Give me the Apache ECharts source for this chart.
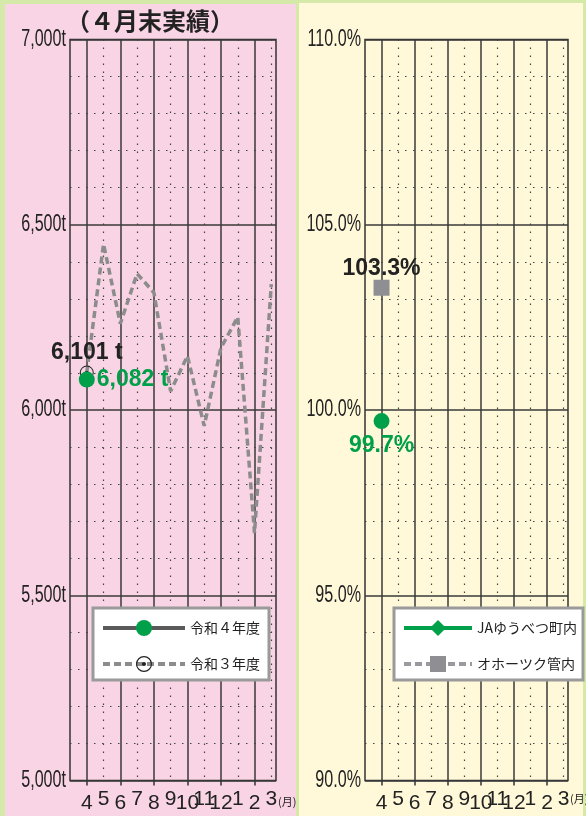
<!DOCTYPE html>
<html><head><meta charset="utf-8">
<script src="https://cdn.jsdelivr.net/npm/echarts@6/dist/echarts.min.js"></script>
<style>
html,body{margin:0;padding:0;background:#d5eaa8;}
#wrap{position:relative;width:586px;height:816px;overflow:hidden;}
#pl{position:absolute;left:5px;top:4px;width:291px;height:812px;background:#f9d4e4;}
#pr{position:absolute;left:299px;top:3px;width:284px;height:813px;background:#fff9da;}
#c{position:absolute;left:0;top:0;width:586px;height:816px;}
</style>
</head><body>
<div id="wrap"><div id="pl"></div><div id="pr"></div><div id="c"></div></div>
<script>
// ---- data ----
const months = ['4','5','6','7','8','9','10','11','12','1','2','3'];
const r3Values = [6101, 6448, 6233, 6368, 6317, 6051, 6146, 5957, 6168, 6251, 5668, 6340];
const r4Values = [6082];
const jaValues = [99.7];
const okhValues = [103.3];
const leftTicks = [5000, 5500, 6000, 6500, 7000];
const leftTickLabels = ['5,000t', '5,500t', '6,000t', '6,500t', '7,000t'];
const rightTicks = [90, 95, 100, 105, 110];
const rightTickLabels = ['90.0%', '95.0%', '100.0%', '105.0%', '110.0%'];
const seriesNames = ['令和４年度', '令和３年度', 'JAゆうべつ町内', 'オホーツク管内'];
const titleText = '（４月末実績）';
const monthUnit = '(月)';

// ---- styles ----
const SANS = "'Liberation Sans', Arial, sans-serif";
const JP = "'Noto Sans CJK JP', sans-serif";
const GREEN = '#00a04a';
const RING = 'path://M0,-7 A7,7 0 1,1 0,7 A7,7 0 1,1 0,-7 Z M0,-6 A6,6 0 1,0 0,6 A6,6 0 1,0 0,-6 Z M0,-1.8 A1.8,1.8 0 1,1 0,1.8 A1.8,1.8 0 1,1 0,-1.8 Z';

const allIdx = months.map((m, i) => i);
const evenIdx = allIdx.filter(i => i % 2 === 0 && i < 11);
const oddIdx = allIdx.filter(i => i % 2 === 1);

function xAxesFor(g, max) {
  return [{
    type: 'value', gridIndex: g, min: -1, max: max, interval: 1, position: 'bottom',
    axisLine: { show: false },
    axisTick: { show: true, customValues: evenIdx, length: 5, lineStyle: { color: '#333', width: 1.5 } },
    axisLabel: {
      customValues: allIdx, margin: 4, color: '#222', fontFamily: SANS,
      formatter: v => (Math.round(v) % 2 === 0 ? '{a|' : '{b|') + months[Math.round(v)] + '}',
      rich: {
        a: { fontSize: 21, lineHeight: 21, padding: [16, 0, 0, 0], fontFamily: SANS, color: '#222' },
        b: { fontSize: 21, lineHeight: 21, padding: [8, 0, 0, 0], fontFamily: SANS, color: '#222' }
      }
    },
    splitLine: { show: true, lineStyle: { color: '#3a3a3a', width: 1.5 } }
  }, {
    type: 'value', gridIndex: g, min: -1, max: max, interval: 1, position: 'top',
    axisLine: { show: false },
    axisTick: { show: false, customValues: oddIdx },
    axisLabel: { show: false },
    splitLine: { show: true, lineStyle: { color: '#444', width: 1.2, type: [1.5, 6.5] } }
  }];
}

function yAxisFor(g, min, max, interval) {
  return {
    type: 'value', gridIndex: g, min: min, max: max, interval: interval,
    axisLine: { show: false }, axisTick: { show: false },
    axisLabel: { show: false },
    splitLine: { show: true, lineStyle: { color: '#3a3a3a', width: 1.5 } },
    minorTick: { show: false, splitNumber: 5 },
    minorSplitLine: { show: true, lineStyle: { color: '#444', width: 1.2, type: [1.5, 6.5] } }
  };
}

const legendBase = {
  orient: 'vertical', itemHeight: 20, itemGap: 20,
  backgroundColor: '#fff', borderColor: '#9a9a9a', borderWidth: 3,
  lineStyle: { width: 4 },
  textStyle: { fontSize: 14, color: '#222', fontFamily: JP }, selectedMode: false
};

const valueLabel = (pos, dist, color, fmt) => ({
  show: true, position: pos, distance: dist, fontSize: 23, fontWeight: 'bold', fontFamily: SANS, color: color, formatter: fmt
});

const chart = echarts.init(document.getElementById('c'), null, { renderer: 'canvas' });
chart.setOption({
  animation: false,
  grid: [
    { left: 70, top: 39.5, width: 206, height: 741, show: true, borderColor: '#333', borderWidth: 1.5, backgroundColor: 'transparent' },
    { left: 365, top: 39.5, width: 203, height: 741, show: true, borderColor: '#333', borderWidth: 1.5, backgroundColor: 'transparent' }
  ],
  xAxis: [...xAxesFor(0, 11.28), ...xAxesFor(1, 11.27)],
  yAxis: [yAxisFor(0, 5000, 7000, 500), yAxisFor(1, 90, 110, 5)],
  legend: [
    Object.assign({}, legendBase, { data: [seriesNames[0], seriesNames[1]], left: 93, top: 608, itemWidth: 82, padding: [12, 9, 8, 8] }),
    Object.assign({}, legendBase, { data: [seriesNames[2], seriesNames[3]], left: 394, top: 608, itemWidth: 68, padding: [12, 6, 8, 8] })
  ],
  series: [{
    name: seriesNames[1], type: 'line', xAxisIndex: 0, yAxisIndex: 0, z: 3,
    symbol: RING, symbolSize: 14,
    lineStyle: { color: '#8c8c8c', width: 3.5, type: [7, 4] },
    itemStyle: { color: '#222' },
    data: r3Values.map((v, i) => i === 0 ? {
      value: [i, v],
      label: valueLabel('top', 1, '#222', p => p.value[1].toLocaleString('en-US') + ' t')
    } : { value: [i, v], symbol: 'none' })
  }, {
    name: seriesNames[0], type: 'line', xAxisIndex: 0, yAxisIndex: 0, z: 4,
    symbol: 'circle', symbolSize: 16,
    lineStyle: { color: '#5a5a5a', width: 4 },
    itemStyle: { color: GREEN },
    data: r4Values.map((v, i) => ({
      value: [i, v],
      label: valueLabel('right', 2, GREEN, p => p.value[1].toLocaleString('en-US') + ' t')
    }))
  }, {
    name: seriesNames[2], type: 'line', xAxisIndex: 2, yAxisIndex: 1, z: 4,
    symbol: 'diamond', symbolSize: 16,
    lineStyle: { color: GREEN, width: 4 },
    itemStyle: { color: GREEN },
    data: jaValues.map((v, i) => ({
      value: [i, v], symbol: 'circle',
      label: valueLabel('bottom', 5, GREEN, p => p.value[1].toFixed(1) + '%')
    }))
  }, {
    name: seriesNames[3], type: 'line', xAxisIndex: 2, yAxisIndex: 1, z: 3,
    symbol: 'rect', symbolSize: 16,
    lineStyle: { color: '#9a9a9e', width: 4, type: [7, 4] },
    itemStyle: { color: '#8e8e93' },
    data: okhValues.map((v, i) => ({
      value: [i, v],
      label: valueLabel('top', 0, '#222', p => p.value[1].toFixed(1) + '%')
    }))
  }]
});

// Y tick labels: condensed text placed through the axis scales
function yLabels(yAxisIndex, ticks, labels, xRight) {
  return ticks.map((v, k) => ({
    type: 'text', x: xRight, y: chart.convertToPixel({ yAxisIndex: yAxisIndex }, v), scaleX: 0.7,
    style: { text: labels[k], fontSize: 23, fontFamily: SANS, fill: '#222', textAlign: 'right', textVerticalAlign: 'middle' }
  }));
}

chart.setOption({
  graphic: [
    { type: 'text', x: 150, y: 21, style: { text: titleText, fontSize: 24, fontWeight: 'bold', fontFamily: JP, fill: '#222', textAlign: 'center', textVerticalAlign: 'middle' } },
    { type: 'text', x: 278, y: 802, style: { text: monthUnit, fontSize: 11, fontFamily: JP, fill: '#222', textAlign: 'left', textVerticalAlign: 'middle' } },
    { type: 'text', x: 570, y: 799, style: { text: monthUnit, fontSize: 11, fontFamily: JP, fill: '#222', textAlign: 'left', textVerticalAlign: 'middle' } },
    ...yLabels(0, leftTicks, leftTickLabels, 66),
    ...yLabels(1, rightTicks, rightTickLabels, 361)
  ]
});
</script>
</body></html>
